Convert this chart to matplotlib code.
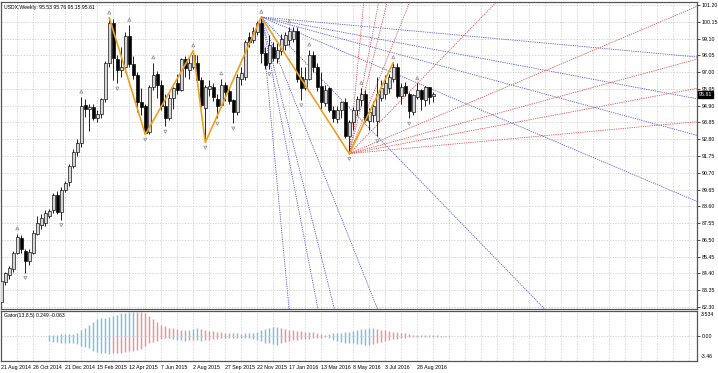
import matplotlib
matplotlib.use("Agg")
import matplotlib.pyplot as plt
import numpy as np

# ---------------- data ----------------
opens = [82.60, 83.85, 84.30, 84.65, 85.70, 86.65, 85.80, 85.15, 85.70, 86.90,
         87.45, 87.55, 88.00, 88.35, 89.30, 88.25, 89.60, 90.10, 91.15, 92.00,
         92.55, 94.95, 94.70, 94.80, 94.10, 94.35, 95.30, 97.55, 100.10, 97.85,
         97.15, 97.35, 99.25, 97.50, 96.85, 95.15, 94.85, 93.25, 96.05, 96.90,
         96.20, 94.90, 94.10, 95.35, 96.30, 95.90, 97.85, 97.15, 97.35, 97.60,
         96.50, 94.75, 95.95, 96.10, 95.30, 94.95, 96.20, 95.80, 95.25, 94.50,
         96.60, 96.70, 99.20, 99.00, 99.50, 100.05, 98.20, 97.55, 98.60, 97.90,
         98.30, 98.70, 99.00, 99.10, 99.55, 96.70, 96.00, 96.60, 98.05, 97.30,
         96.15, 95.05, 96.00, 94.60, 94.05, 94.60, 95.10, 93.00, 93.85, 94.60,
         95.25, 95.60, 93.95, 94.30, 93.95, 95.40, 95.60, 96.00, 96.55, 97.35,
         95.50, 96.15, 95.65, 94.50, 95.45, 95.85, 95.25, 96.05, 95.53]
highs = [84.05, 84.50, 84.85, 85.80, 86.90, 86.80, 85.95, 85.90, 87.10, 88.00,
         88.10, 88.40, 88.45, 89.45, 89.55, 89.80, 90.20, 91.25, 92.20, 92.80,
         95.45, 95.30, 95.00, 95.00, 94.60, 95.40, 97.70, 100.40, 100.30, 98.05,
         98.55, 99.50, 99.95, 98.00, 97.00, 96.00, 95.00, 96.20, 97.60, 97.10,
         96.50, 95.60, 95.60, 96.10, 96.90, 97.90, 98.00, 97.90, 98.35, 98.10,
         96.70, 96.20, 96.50, 96.30, 95.60, 96.60, 96.40, 96.10, 95.30, 96.90,
         97.30, 99.00, 99.50, 99.80, 100.20, 100.45, 98.60, 99.30, 98.90, 98.80,
         99.40, 99.50, 99.85, 99.80, 99.80, 97.30, 97.30, 98.40, 98.35, 97.60,
         97.00, 96.20, 96.10, 94.90, 94.90, 95.20, 95.40, 94.00, 94.80, 95.50,
         96.00, 95.85, 94.75, 95.20, 96.70, 96.50, 96.80, 96.90, 97.60, 97.60,
         96.30, 96.40, 95.75, 95.60, 96.30, 95.95, 96.15, 96.10, 95.76]
lows = [82.50, 83.70, 84.05, 84.50, 85.60, 85.70, 84.45, 84.90, 85.60, 86.80,
        87.20, 87.40, 87.90, 88.20, 88.10, 87.75, 89.50, 89.90, 91.00, 91.75,
        92.30, 94.20, 93.30, 94.00, 93.90, 94.10, 95.10, 97.30, 96.50, 96.30,
        96.70, 97.00, 97.30, 96.60, 94.50, 94.30, 93.10, 93.15, 95.90, 95.40,
        94.60, 93.60, 94.00, 94.70, 95.60, 95.80, 96.70, 96.60, 97.20, 96.20,
        94.80, 92.60, 95.50, 95.20, 94.10, 94.80, 95.20, 95.00, 93.80, 94.30,
        96.20, 96.50, 98.60, 98.80, 99.30, 97.60, 97.20, 97.20, 97.70, 97.60,
        98.10, 98.40, 98.70, 98.90, 96.40, 95.25, 95.90, 96.50, 97.00, 95.80,
        94.60, 94.90, 94.50, 93.90, 93.80, 94.10, 92.90, 91.90, 93.40, 94.30,
        94.90, 93.90, 93.40, 93.90, 93.00, 95.20, 95.30, 95.70, 96.40, 95.40,
        95.00, 95.50, 94.10, 94.30, 95.30, 94.65, 94.90, 95.00, 95.15]
closes = [83.90, 84.40, 84.75, 85.70, 86.70, 85.90, 85.15, 85.75, 86.95, 87.55,
          87.85, 88.20, 88.30, 89.30, 88.25, 89.65, 90.05, 91.10, 92.00, 92.55,
          94.90, 94.70, 94.80, 94.15, 94.35, 95.30, 97.60, 100.10, 97.90, 97.15,
          97.35, 99.25, 97.50, 96.85, 95.15, 94.80, 93.20, 96.10, 96.85, 96.20,
          94.85, 94.10, 95.40, 96.00, 95.85, 97.80, 97.25, 97.55, 98.05, 96.50,
          94.95, 96.05, 96.15, 95.45, 94.90, 96.20, 95.75, 95.20, 94.50, 96.70,
          96.95, 98.90, 98.90, 99.60, 100.10, 98.20, 97.45, 98.70, 97.90, 98.40,
          99.10, 99.30, 99.55, 99.60, 96.60, 96.00, 96.60, 98.10, 97.30, 96.10,
          95.10, 95.90, 94.60, 94.10, 94.60, 95.10, 93.00, 93.85, 94.60, 95.30,
          95.60, 94.00, 94.50, 94.85, 95.60, 96.00, 96.30, 96.70, 97.35, 95.50,
          96.10, 95.70, 94.55, 95.55, 95.85, 95.30, 96.05, 95.45, 95.61]

# fractal markers (bar indices)
fractal_up = [4, 20, 27, 32, 38, 48, 55, 65, 72, 77, 90, 98, 104]
fractal_down = [6, 15, 29, 36, 41, 51, 54, 58, 67, 75, 87, 94, 102]
# zigzag pivots: (bar index, 'H' high / 'L' low)
zigzag_bars = [27, 36, 48, 51, 65, 87, 98]
zigzag_kind = ['H', 'L', 'H', 'L', 'H', 'L', 'H']
# fan slopes (price per bar) used for both fans
fan_slopes = [0.023, 0.047, 0.068, 0.106, 0.258, 0.629, 1.0, 1.29, 2.63]
fan_down_anchor = 65   # blue fan from this high
fan_up_anchor = 87     # red fan from this low

# price axis labels
price_ticks = [82.30, 83.35, 84.40, 85.45, 86.50, 87.55, 88.60, 89.65, 90.70, 91.75,
               92.80, 93.85, 94.90, 95.95, 97.00, 98.05, 99.10, 100.15, 101.20]
date_labels = ["21 Aug 2014", "26 Oct 2014", "21 Dec 2014", "15 Feb 2015", "12 Apr 2015",
               "7 Jun 2015", "2 Aug 2015", "27 Sep 2015", "22 Nov 2015", "17 Jan 2016",
               "13 Mar 2016", "8 May 2016", "3 Jul 2016", "28 Aug 2016"]
date_bars = [0, 8, 16, 24, 32, 40, 48, 56, 64, 72, 80, 88, 96, 104]

# Gator oscillator (upper >= 0, lower <= 0), starting at bar 12
gator_start = 12
gator_upper = [0.15, 0.2, 0.2, 0.25, 0.25, 0.3, 0.3, 0.4,          # 12-19
               0.85, 1.2, 1.6, 2.0, 2.4,                           # 20-24
               2.5, 2.6, 2.7, 2.8, 3.0,                            # 25-29
               3.2, 3.3, 3.4, 3.45, 3.4, 3.35,                     # 30-35
               3.2, 2.8, 2.4, 2.0,                                 # 36-39
               1.6, 1.4, 1.2, 1.1, 1.0,                            # 40-44
               0.9, 0.85, 0.9, 1.0, 1.1, 1.0, 0.9, 0.8,            # 45-52
               0.7, 0.6, 0.55, 0.5, 0.45, 0.4,                     # 53-58
               0.4, 0.35, 0.4, 0.4, 0.45, 0.6,                     # 59-64
               0.85, 1.0, 1.2, 1.3, 1.3,                           # 65-69
               1.2, 1.0, 0.9, 0.85, 0.8,                           # 70-74
               0.7, 0.6, 0.6, 0.55, 0.5,                           # 75-79
               0.3, 0.2, 0.3,                                      # 80-82
               0.4, 0.45, 0.5, 0.55, 0.6, 0.7,                     # 83-88
               0.85, 0.95, 1.05, 1.1, 1.1, 1.0,                    # 89-94
               0.9, 0.85, 0.75, 0.65, 0.6,                         # 95-99
               0.45, 0.4,                                          # 100-101
               0.25, 0.2, 0.2, 0.2, 0.15, 0.15, 0.15, 0.15, 0.1, 0.1, 0.1]
gator_lower = [-0.7, -0.8, -0.85, -0.9, -0.95, -1.0, -1.0, -1.1,
               -1.3, -1.5, -1.7, -2.0, -2.2,
               -2.3, -2.4, -2.45, -2.4, -2.35,
               -2.3, -2.2, -2.1, -2.0, -1.9, -1.75,
               -1.4, -1.0, -0.8, -0.6,
               -0.4, -0.3, -0.3, -0.4, -0.5,
               -0.55, -0.6, -0.55, -0.5, -0.55, -0.6, -0.55, -0.5,
               -0.45, -0.35, -0.3, -0.3, -0.3, -0.3,
               -0.25, -0.25, -0.25, -0.3, -0.4, -0.5,
               -0.7, -0.9, -1.0, -1.15, -1.2,
               -1.0, -0.8, -0.6, -0.55, -0.5,
               -0.45, -0.4, -0.35, -0.3, -0.3,
               -0.2, -0.1, -0.3,
               -0.55, -0.7, -0.8, -0.9, -1.0, -1.0,
               -1.05, -1.1, -1.2, -1.2, -1.1, -1.0,
               -0.8, -0.6, -0.5, -0.45, -0.4,
               -0.3, -0.25,
               -0.15, -0.12, -0.1, -0.1, -0.1, -0.1, -0.08, -0.08, -0.06, -0.06, -0.06]
gator_ylim = (-3.46, 3.534)

title_text = "USDX,Weekly: 95.53 95.76 95.15 95.61"
gator_text = "Gator(13,8,5) 0.249 -0.063"

# ---------------- style ----------------
W, H = 718, 373
FS = 3.8
GRID = dict(color="#c8c8c8", linestyle=(0, (2, 2)), linewidth=0.5)
FRAME = "#555555"
BULL = "#d6d6d6"
BEAR = "#000000"
BLUE_FAN = "#5a5ad2"
RED_FAN = "#e05050"
ZZ = "#f0a020"
G_UP = "#7fbde8"
G_DN = "#f08f99"

plt.rcParams["font.family"] = ["Liberation Sans", "DejaVu Sans"]
fig = plt.figure(figsize=(W / 100, H / 100), dpi=100)


def rect(l, t, r, b):
    return [l / W, 1 - b / H, (r - l) / W, (b - t) / H]


ax = fig.add_axes(rect(1, 2, 697, 309))
ax2 = fig.add_axes(rect(1, 311, 697, 361))

n = len(opens)
idx = np.arange(n)
o = np.array(opens); h = np.array(highs); l = np.array(lows); c = np.array(closes)

xmin, xmax = -0.075, 173.925
ymin, ymax = 82.176, 101.388

# grid
for p in price_ticks:
    ax.axhline(p, **GRID, zorder=0)
for xb in range(4, 174, 4):
    ax.axvline(xb, **GRID, zorder=0)
    ax2.axvline(xb, **GRID, zorder=0)
ax2.axhline(0, **GRID, zorder=0)

# fans
far = 400
for s in fan_slopes:
    x0 = fan_down_anchor; y0 = h[x0]
    ax.plot([x0, x0 + far], [y0, y0 - s * far], color=BLUE_FAN, lw=0.6,
            linestyle=(0, (1.5, 1.2)), zorder=1)
    x1 = fan_up_anchor; y1 = l[x1]
    ax.plot([x1, x1 + far], [y1, y1 + s * far], color=RED_FAN, lw=0.6,
            linestyle=(0, (1.5, 1.2)), zorder=1)

# candles
up = c >= o
ax.vlines(idx, l, h, color="black", lw=0.6, zorder=2)
body = np.where(np.abs(c - o) < 0.03, 0.03, c - o)
ax.bar(idx[up], body[up], bottom=o[up], width=0.72, color=BULL,
       edgecolor="black", linewidth=0.45, zorder=3)
ax.bar(idx[~up], body[~up], bottom=o[~up], width=0.72, color=BEAR,
       edgecolor="black", linewidth=0.45, zorder=3)

# zigzag
zz_y = [h[b] if k == 'H' else l[b] for b, k in zip(zigzag_bars, zigzag_kind)]
ax.plot(zigzag_bars, zz_y, color=ZZ, lw=1.2, zorder=4)

# fractals
fu = np.array(fractal_up); fd = np.array(fractal_down)
ax.scatter(fu, h[fu] + 0.33, marker="^", s=5, facecolors="none",
           edgecolors="#8a8a8a", linewidths=0.5, zorder=5)
ax.scatter(fd, l[fd] - 0.33, marker="v", s=5, facecolors="none",
           edgecolors="#8a8a8a", linewidths=0.5, zorder=5)

ax.set_xlim(xmin, xmax)
ax.set_ylim(ymin, ymax)
ax.yaxis.tick_right()
ax.set_yticks(price_ticks)
ax.set_yticklabels([f"{p:.2f}" for p in price_ticks], fontsize=FS)
ax.tick_params(axis="y", length=2, width=0.5, pad=1.2, colors="black")
ax.set_xticks([])
for sp in ax.spines.values():
    sp.set_color(FRAME); sp.set_linewidth(0.9)

ax.text(0.004, 0.99, title_text, transform=ax.transAxes, fontsize=3.7,
        va="top", ha="left")
# current price box
ax.annotate(f"{closes[-1]:.2f}", xy=(1, closes[-1]), xycoords=("axes fraction", "data"),
            xytext=(1.5, 0), textcoords="offset points", fontsize=FS, color="white",
            va="center", ha="left",
            bbox=dict(boxstyle="square,pad=0.15", fc="black", ec="black"))

# gator
gx = np.arange(gator_start, gator_start + len(gator_upper))
gu = np.array(gator_upper); gl = np.array(gator_lower)
cu = [G_UP if (i == 0 or gu[i] >= gu[i - 1]) else G_DN for i in range(len(gu))]
cl = [G_UP if (i == 0 or abs(gl[i]) >= abs(gl[i - 1])) else G_DN for i in range(len(gl))]
ax2.vlines(gx, 0, gu, colors=cu, linewidth=1.05, zorder=2)
ax2.vlines(gx, gl, 0, colors=cl, linewidth=1.05, zorder=2)
ax2.set_xlim(xmin, xmax)
ax2.set_ylim(*gator_ylim)
ax2.yaxis.tick_right()
ax2.set_yticks([0])
ax2.set_yticklabels(["0.00"], fontsize=FS)
ax2.tick_params(axis="y", length=2, width=0.5, pad=1.2)
ax2.text(1.005, 0.97, f"{gator_ylim[1]:.3f}", transform=ax2.transAxes, fontsize=FS,
         va="top", ha="left")
ax2.text(1.005, 0.03, f"{gator_ylim[0]:.2f}", transform=ax2.transAxes, fontsize=FS,
         va="bottom", ha="left")
ax2.text(0.004, 0.95, gator_text, transform=ax2.transAxes, fontsize=3.7,
         va="top", ha="left")
ax2.set_xticks(date_bars)
ax2.set_xticklabels(date_labels, fontsize=FS, ha="left")
ax2.tick_params(axis="x", length=0, pad=3)
for sp in ax2.spines.values():
    sp.set_color(FRAME); sp.set_linewidth(0.9)

fig.savefig("out.png", dpi=100)
